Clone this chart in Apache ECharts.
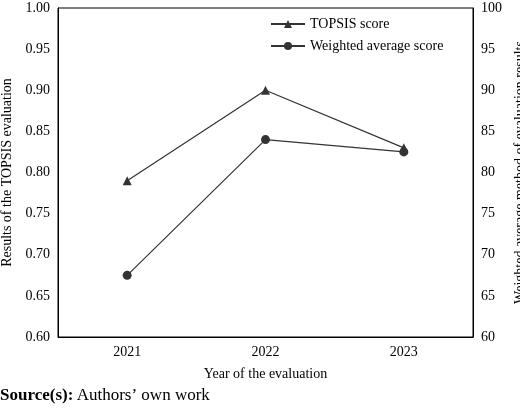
<!DOCTYPE html><html><head><meta charset="utf-8"><script src="https://cdn.jsdelivr.net/npm/echarts@6/dist/echarts.min.js"></script>
<style>body{margin:0;background:#fff}#c{width:520px;height:411px}</style></head><body><div id="c"></div><script>
const years=['2021','2022','2023'];
const topsis=[0.79,0.90,0.83];
const weighted=[67.5,84.0,82.5];
const F='Liberation Serif';
const ch=echarts.init(document.getElementById('c'));
const ax={axisLine:{show:true,lineStyle:{color:'#000'}},axisTick:{inside:true,lineStyle:{color:'#000'}},axisLabel:{color:'#000',fontFamily:F,fontSize:14},splitLine:{show:false},nameLocation:'middle',nameTextStyle:{color:'#000',fontFamily:F,fontSize:14}};
ch.setOption({
animation:false,
grid:{left:58,right:47,top:8,bottom:74,containLabel:false,outerBoundsMode:'none',show:true,borderColor:'#000',borderWidth:1},
legend:{left:265,top:12,orient:'vertical',itemGap:8,textStyle:{fontFamily:F,fontSize:14,color:'#000'},itemWidth:34,itemHeight:10,
data:['TOPSIS score','Weighted average score']},
xAxis:Object.assign({},ax,{type:'category',data:years,name:'Year of the evaluation',nameGap:30,axisTick:{inside:true,alignWithLabel:true,lineStyle:{color:'#000'}}}),
yAxis:[Object.assign({},ax,{type:'value',min:0.6,max:1.0,interval:0.05,name:'Results of the TOPSIS evaluation',nameGap:40,axisLabel:Object.assign({},ax.axisLabel,{formatter:v=>v.toFixed(2)})}),
Object.assign({},ax,{type:'value',min:60,max:100,interval:5,position:'right',name:'Weighted average method of evaluation results',nameGap:32})],
series:[{name:'TOPSIS score',type:'line',data:topsis,symbol:'triangle',symbolSize:9,itemStyle:{color:'#333'},lineStyle:{color:'#333',width:1.2}},
{name:'Weighted average score',type:'line',yAxisIndex:1,data:weighted,symbol:'circle',symbolSize:9,itemStyle:{color:'#333'},lineStyle:{color:'#333',width:1.2}}],
graphic:[{type:'text',left:0,top:387,style:{rich:{b:{fontWeight:'bold',fontFamily:F,fontSize:17},n:{fontFamily:F,fontSize:17}},text:'{b|Source(s):} {n|Authors’ own work}'}}]
});
</script></body></html>
